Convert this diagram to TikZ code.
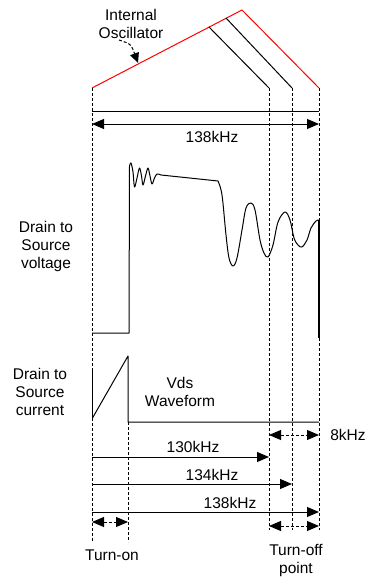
\documentclass[tikz,border=0pt]{standalone}
\usepackage{fontspec}
\setmainfont{Liberation Sans}
\usetikzlibrary{arrows.meta}
\tikzset{
 lbl/.style={font=\fontsize{15.5}{18}\selectfont, align=center, inner sep=0pt},
 guide/.style={line width=0.9pt, dash pattern=on 3pt off 2pt},
 wave/.style={line width=1pt, line join=round},
 ar/.style={line width=1pt, -{Triangle[length=12pt,width=10pt]}},
 dar/.style={line width=1pt, {Triangle[length=12pt,width=10pt]}-{Triangle[length=12pt,width=10pt]}},
 ddar/.style={dar, dash pattern=on 3pt off 2pt},
 osc/.style={red, line width=1pt, line join=miter},
}
\begin{document}
\begin{tikzpicture}[x=1pt,y=-1pt]
\useasboundingbox (0,0) rectangle (365,578);
% key coordinates
\coordinate (L0) at (92,88);  \coordinate (L1) at (92,542);
\coordinate (T0) at (128,422); \coordinate (T1) at (128,542);
\coordinate (A0) at (269,88); \coordinate (A1) at (269,530);
\coordinate (B0) at (292,88); \coordinate (B1) at (292,530);
\coordinate (C0) at (319,88); \coordinate (C1) at (319,530);
\coordinate (P) at (242,10);
\coordinate (a) at (209,27); \coordinate (b) at (226,18);
% oscillator
\draw[osc] (L0) -- (P) -- (C0);
\draw[line width=1pt] (a) -- (A0);
\draw[line width=1pt] (b) -- (B0);
\node[lbl] (osclbl) at (131,24) {Internal\\Oscillator};
\draw[line width=1pt, dash pattern=on 3pt off 2pt, -{Triangle[length=10pt,width=9pt]}] (119,40) .. controls (131,44) .. (138,63);
% guides
\draw[guide] (L0) -- (L1);
\draw[guide] (T0) -- (T1);
\draw[guide] (A0) -- (A1);
\draw[guide] (B0) -- (B1);
\draw[guide] (C0) -- (C1);
% top period
\draw[line width=1pt] (92,111) -- (319,111);
\draw[dar] (92,124) -- (319,124);
\node[lbl] (f0) at (212,137) {138kHz};
% labels
\node[lbl] (vlbl) at (46,246) {Drain to\\Source\\voltage};
\node[lbl] (ilbl) at (40,392) {Drain to\\Source\\current};
\node[lbl] (vds) at (180,392) {Vds\\Waveform};
% voltage waveform
\draw[wave] (92,333) -- (129,333) -- (129.5,166)
  plot[smooth, tension=0.55] coordinates {(129.5,166) (131,163) (133,172) (134.5,187) (137,178) (139.5,168) (141.5,176) (143,185) (145.5,176) (148,168) (150,176) (152,184) (154.5,178) (157,174) (161,175)}
  -- (218,181)
  plot[smooth, tension=0.55] coordinates {(218,181) (222,195) (226,235) (229,258) (233,266) (237,258) (242,230) (246,208) (251,203) (255,210) (260,240) (264,253) (268,257) (273,245) (278,222) (285,212) (290,220) (294,238) (298,245) (302,247) (307,240) (311,228) (316,221) (319,220)};
\draw[line width=1.6pt] (319,220) -- (319,338);
% current waveform
\draw[line width=1.6pt] (92.5,369) -- (92.5,418);
\draw[wave] (92.5,418) -- (128,356) -- (128,422) -- (319,422);
% 8kHz
\draw[ddar] (269,435) -- (319,435);
\node[lbl] (f8) at (348,435) {8kHz};
% frequency arrows
\draw[ar] (92,457) -- (A0 |- 0,457);
\node[lbl] (f1) at (193,447) {130kHz};
\draw[ar] (92,484) -- (B0 |- 0,484);
\node[lbl] (f2) at (212,475) {134kHz};
\draw[ar] (92,512) -- (C0 |- 0,512);
\node[lbl] (f3) at (230,503) {138kHz};
% turn-on / turn-off
\draw[ddar] (92,522) -- (128,522);
\draw[ddar] (269,526) -- (319,526);
\node[lbl] (ton) at (112,555) {Turn-on};
\node[lbl] (toff) at (296,560) {Turn-off\\point};
\end{tikzpicture}
\end{document}
